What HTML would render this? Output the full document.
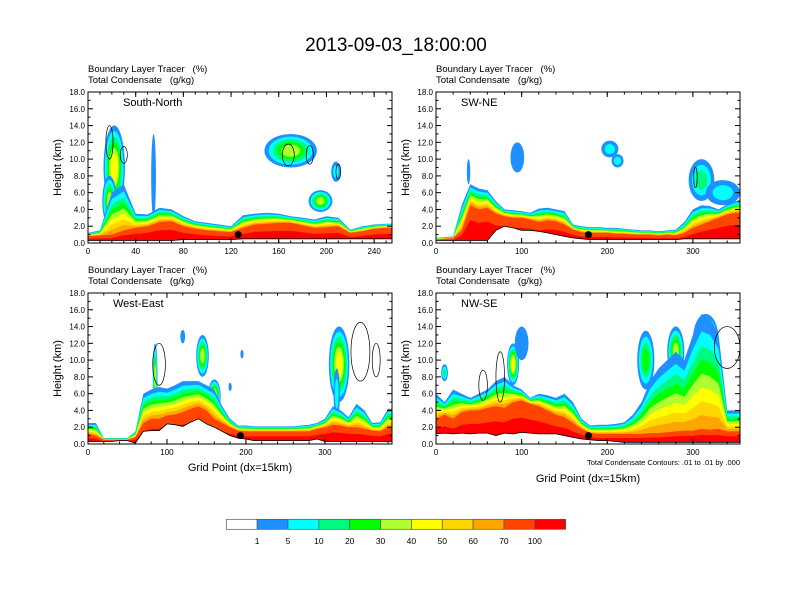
<!DOCTYPE html>
<html><head><meta charset="utf-8">
<style>
html,body{margin:0;padding:0;background:#fff;}
svg{display:block;font-family:"Liberation Sans",sans-serif;}
text{white-space:pre;}
</style></head>
<body>
<svg id="chart" width="792" height="612" viewBox="0 0 792 612" xmlns="http://www.w3.org/2000/svg">
<text x="396" y="51" text-anchor="middle" font-size="19">2013-09-03_18:00:00</text>
<g id="panels"></g>
<g id="cbar"></g>
</svg>
<script>
// ---------- data ----------
const levelColors = ["#ffffff","#1e90ff","#00ffff","#00fa7f","#00ff00","#adff2f","#ffff00","#ffd700","#ffa500","#ff4500","#ff0000"];
const cbarLabels = ["1","5","10","20","30","40","50","60","70","100"];
const yTicks = [0,2,4,6,8,10,12,14,16,18];

const tlTerrain = [0.3,0.3,0.3,0.3,0.3,0.3,0.3,0.3,0.4,0.4,0.4,0.4,0.4,0.5,0.5,0.5,0.5,0.5,0.5,0.5,0.5,0.5,0.5,0.5,0.5,0.5];
const tlRed = [0.8,0.9,1.0,1.5,1.8,2.0,2.5,2.6,2.0,1.7,1.5,1.4,1.3,1.8,2.2,2.3,2.4,2.4,2.1,1.8,1.9,2.0,1.2,1.4,1.7,1.8];
const tlTop = [1.2,1.5,6,7,3.5,3.4,4.2,4.0,3.2,2.6,2.4,2.2,2.0,3.3,3.5,3.6,3.5,3.2,3.0,2.8,3.2,3.0,1.6,2.0,2.2,2.3];
const tlBlobs = [[22,9,9,5,6],[18,5,6,3,5],[170,11,22,2,5],[195,5,10,1.3,5],[55,8,2,5,1],[208,8.5,4,1.2,2]];
const tlContours = [[18,12,3,2],[30,10.5,3,1],[168,10.5,5,1.3],[186,10.5,3,1.1],[210,8.5,2,0.9]];

const trTerrain = [0.3,0.3,0.3,0.3,0.3,0.3,0.3,1.5,2.0,1.8,1.5,1.5,1.4,1.2,1.0,0.8,0.6,0.5,0.4,0.4,0.4,0.4,0.4,0.4,0.4,0.4,0.4,0.4,0.4,0.5,0.5,0.5,0.5,0.5,0.5,0.5];
const trRed = [0.4,0.5,0.6,1.5,4.5,4.0,4.2,3.5,3.2,3.0,3.0,2.8,2.5,2.7,2.6,2.2,1.6,1.3,1.2,1.2,1.2,1.1,1.1,1.0,1.0,1.0,0.9,1.0,0.9,1.2,1.8,2.2,2.6,3.0,3.4,3.6];
const trTop = [0.6,0.7,0.8,4.5,7.0,6.5,6.3,5.0,4.0,3.9,3.8,3.6,4.1,4.2,4.0,3.8,2.2,2.0,1.9,1.9,1.8,1.8,1.7,1.6,1.5,1.5,1.4,1.5,1.6,2.5,4,4.5,4.4,4.0,4.6,5.0];
const trBlobs = [[95,10.2,8,1.8,1],[203,11.2,10,1.0,2],[212,9.8,7,0.8,2],[310,7.5,15,2.5,3],[335,6,20,1.5,2],[38,8.5,2,1.5,1]];
const trContours = [[303,7.8,2,1.2]];

const blTerrain = [0.3,0.3,0.3,0.3,0.4,0.4,0.1,1.5,1.6,1.6,2.4,2.3,2.1,2.6,3.0,2.4,2.0,1.5,1.0,0.7,0.6,0.4,0.4,0.4,0.4,0.4,0.4,0.4,0.4,0.6,0.3,0.3,0.3,0.3,0.3,0.3,0.3,0.3,0.3];
const blRed = [1.2,1.0,0.5,0.5,0.5,0.5,0.8,2.5,3.0,3.0,3.4,3.5,3.8,4.2,4.5,4.0,3.0,2.5,2.0,1.6,1.5,1.5,1.5,1.5,1.5,1.5,1.5,1.5,1.5,1.8,2.0,2.3,2.2,2.0,2.0,1.8,1.6,1.5,2.0];
const blTop = [2.5,2.5,0.7,0.7,0.7,0.7,1.5,6.0,6.5,6.8,6.6,7.0,7.5,7.5,7.5,7.0,6.5,4.5,3.0,2.2,2.2,2.1,2.1,2.1,2.1,2.1,2.1,2.2,2.3,2.5,3.0,4.5,4.0,3.2,4.8,4.0,2.5,2.6,4.2];
const blBlobs = [[145,10.5,8,2.5,5],[160,5.7,8,2,6],[85,8,3,4,5],[318,9.5,13,4.5,6],[315,6,4,3,2],[120,12.8,3,0.8,1],[195,10.7,2,0.5,1],[180,6.8,2,0.5,1]];
const blContours = [[90,9.5,8,2.5],[345,11,12,3.5],[365,10,5,2]];

const brTerrain = [1.2,1.3,1.2,1.3,1.2,1.3,1.3,1.0,1.3,1.2,1.4,1.3,1.2,1.2,1.2,1.0,0.8,0.6,0.5,0.4,0.4,0.3,0.2,0.2,0.2,0.2,0.2,0.2,0.2,0.2,0.2,0.2,0.2,0.2,0.2,0.2];
const brRed = [3,3.5,3,3.8,4,4,4.3,4.5,4.3,5,5.2,4.8,4.5,4,3.5,3.2,2.5,1.8,1.3,1.2,1.2,1.2,1.2,1.2,1.2,1.3,1.3,1.4,1.5,1.6,1.6,1.8,1.7,1.8,1.5,1.5];
const brTop = [6,5,6.5,6,5.5,6,6.5,7.5,8,7,6.5,5.5,6,5.8,5.5,6,5,3,2.2,2.3,2.3,2.4,2.6,3.5,5,7.5,9,10,11,10,13,15.5,15,13,4,4];
const brBlobs = [[90,9.5,7,2.5,6],[100,12,8,2,1],[245,10,10,3.5,4],[280,11,10,3,5],[315,12.5,15,3,6],[10,8.5,4,1,3],[310,8,10,4,4]];
const brContours = [[55,7,5,1.8],[75,8,5,3],[340,11.5,15,2.5]];

// ---------- drawing ----------
const NS="http://www.w3.org/2000/svg";
function mk(tag,attrs,parent){const e=document.createElementNS(NS,tag);for(const k in attrs)e.setAttribute(k,attrs[k]);parent.appendChild(e);return e;}
const panelsG=document.getElementById('panels');
// fraction of the fringe (red top -> envelope top) where each colour band ends
const bandFrac=[1,0.85,0.72,0.6,0.48,0.36,0.24,0.12];

const panels=[
 {name:"south-north",label:"South-North",x0:88,x1:392,y0:92,y1:243,xmax:255,xt:[0,40,80,120,160,200,240],minor:10,terrain:tlTerrain,red:tlRed,top:tlTop,blobs:tlBlobs,cont:tlContours,dot:126,xlabel:false,note:false},
 {name:"sw-ne",label:"SW-NE",x0:436,x1:740,y0:92,y1:243,xmax:355,xt:[0,100,200,300],minor:20,terrain:trTerrain,red:trRed,top:trTop,blobs:trBlobs,cont:trContours,dot:178,xlabel:false,note:false},
 {name:"west-east",label:"West-East",x0:88,x1:392,y0:293,y1:444,xmax:385,xt:[0,100,200,300],minor:20,terrain:blTerrain,red:blRed,top:blTop,blobs:blBlobs,cont:blContours,dot:193,xlabel:true,note:false},
 {name:"nw-se",label:"NW-SE",x0:436,x1:740,y0:293,y1:444,xmax:355,xt:[0,100,200,300],minor:20,terrain:brTerrain,red:brRed,top:brTop,blobs:brBlobs,cont:brContours,dot:178,xlabel:true,note:true}
];
const STEP=10;
panels.forEach((p,pi)=>{
 const g=mk('g',{},panelsG);
 
 
 const X=v=>p.x0+v/p.xmax*(p.x1-p.x0);
 const Y=h=>p.y1-h/18*(p.y1-p.y0);
 const clipId='clip'+pi;
 const cp=mk('clipPath',{id:clipId},g);
 mk('rect',{x:p.x0,y:p.y0,width:p.x1-p.x0,height:p.y1-p.y0},cp);
 const plot=mk('g',{'clip-path':'url(#'+clipId+')'},g);
 const n=p.top.length;
 function area(fn,color,nm){
   let d='M'+X(0)+','+Y(0);
   for(let i=0;i<n;i++) d+=' L'+X(i*STEP).toFixed(1)+','+Y(fn(i)).toFixed(1);
   d+=' L'+X((n-1)*STEP+STEP)+','+Y(fn(n-1)).toFixed(1)+' L'+X((n-1)*STEP+STEP)+','+Y(0)+' Z';
   const e=mk('path',{d:d,fill:color},plot);
   
   
 }
 p.blobs.forEach((b,bi)=>{
   for(let k=1;k<=b[4];k++){
     const f=1-(k-1)/b[4]*0.8;
     const e=mk('ellipse',{cx:X(b[0]),cy:Y(b[1]),rx:Math.max(1,(b[2]/p.xmax*(p.x1-p.x0))*f),ry:Math.max(1,b[3]/18*(p.y1-p.y0)*f),fill:levelColors[k]},plot);
     
     
   }
 });
 for(let k=1;k<=8;k++){
   const fr=bandFrac[k-1];
   area(i=>p.red[i]+(p.top[i]-p.red[i])*fr,levelColors[k],'tracer-band-'+k);
 }
 area(i=>p.red[i],levelColors[9],'tracer-band-9');
 area(i=>Math.max(p.terrain[i],p.red[i]*0.6),levelColors[10],'tracer-band-10');
 let td='M'+X(0)+','+Y(0);
 let tl='';
 for(let i=0;i<n;i++){td+=' L'+X(i*STEP).toFixed(1)+','+Y(p.terrain[i]).toFixed(1);tl+=(i?' L':'M')+X(i*STEP).toFixed(1)+','+Y(p.terrain[i]).toFixed(1);}
 td+=' L'+X(n*STEP)+','+Y(p.terrain[n-1]).toFixed(1)+' L'+X(n*STEP)+','+Y(0)+' Z';
 tl+=' L'+X(n*STEP)+','+Y(p.terrain[n-1]).toFixed(1);
 const tf=mk('path',{d:td,fill:'#fff'},plot);
 
 
 mk('path',{d:tl,fill:'none',stroke:'#000','stroke-width':0.8},plot);
 p.cont.forEach(c=>{
   const e=mk('ellipse',{cx:X(c[0]),cy:Y(c[1]),rx:c[2]/p.xmax*(p.x1-p.x0),ry:c[3]/18*(p.y1-p.y0),fill:'none',stroke:'#000','stroke-width':0.7},plot);
   
   
 });
 const dot=mk('circle',{cx:X(p.dot),cy:Y(1.0),r:3.5,fill:'#000'},g);
 
 
 mk('rect',{x:p.x0,y:p.y0,width:p.x1-p.x0,height:p.y1-p.y0,fill:'none',stroke:'#000','stroke-width':1},g);
 yTicks.forEach(t=>{
   const y=Y(t);
   mk('line',{x1:p.x0,x2:p.x0+5,y1:y,y2:y,stroke:'#000'},g);
   mk('line',{x1:p.x1,x2:p.x1-5,y1:y,y2:y,stroke:'#000'},g);
   const tx=mk('text',{x:p.x0-3,y:y+3,'text-anchor':'end','font-size':8},g);
   tx.textContent=t.toFixed(1);
   
   
   if(t<18){const ym=Y(t+1);
     mk('line',{x1:p.x0,x2:p.x0+2.5,y1:ym,y2:ym,stroke:'#000'},g);
     mk('line',{x1:p.x1,x2:p.x1-2.5,y1:ym,y2:ym,stroke:'#000'},g);}
 });
 for(let v=0;v<=p.xmax;v+=p.minor){
   const x=X(v);
   mk('line',{x1:x,x2:x,y1:p.y1,y2:p.y1-2.5,stroke:'#000'},g);
   mk('line',{x1:x,x2:x,y1:p.y0,y2:p.y0+2.5,stroke:'#000'},g);
 }
 p.xt.forEach(t=>{
   const x=X(t);
   mk('line',{x1:x,x2:x,y1:p.y1,y2:p.y1-5,stroke:'#000'},g);
   mk('line',{x1:x,x2:x,y1:p.y0,y2:p.y0+5,stroke:'#000'},g);
   const tx=mk('text',{x:x,y:p.y1+11,'text-anchor':'middle','font-size':8},g);
   tx.textContent=t;
   
   
 });
 const yt=mk('text',{x:0,y:0,'text-anchor':'middle','font-size':11,transform:'translate('+(p.x0-27)+','+((p.y0+p.y1)/2)+') rotate(-90)'},g);
 yt.textContent='Height (km)';
 
 
 const l1=mk('text',{x:p.x0,y:p.y0-20,'font-size':9.5},g);
 l1.textContent='Boundary Layer Tracer   (%)';
 
 
 const l2=mk('text',{x:p.x0,y:p.y0-9,'font-size':9.5},g);
 l2.textContent='Total Condensate   (g/kg)';
 
 
 const pt=mk('text',{x:p.x0+(pi==0?35:25),y:p.y0+14,'font-size':11},g);
 pt.textContent=p.label;
 
 
 if(p.note){
   const nt=mk('text',{x:p.x1,y:p.y1+21,'text-anchor':'end','font-size':7.5},g);
   nt.textContent='Total Condensate Contours: .01 to .01 by .000';
   
   
 }
 if(p.xlabel){
   const xl=mk('text',{x:(p.x0+p.x1)/2,y:p.note?p.y1+38:p.y1+27,'text-anchor':'middle','font-size':11},g);
   xl.textContent='Grid Point (dx=15km)';
   
   
 }
});
const cb=document.getElementById('cbar');
const cbx0=226.3,cbw=30.85,cby=519.3,cbh=10;
levelColors.forEach((c,i)=>{
  const r=mk('rect',{x:cbx0+i*cbw,y:cby,width:cbw,height:cbh,fill:c,stroke:'#555','stroke-width':0.7},cb);
  
  
});
cbarLabels.forEach((l,i)=>{
  const t=mk('text',{x:cbx0+(i+1)*cbw,y:544,'text-anchor':'middle','font-size':8.5},cb);
  t.textContent=l;
  
  
});
</script>
</body></html>
